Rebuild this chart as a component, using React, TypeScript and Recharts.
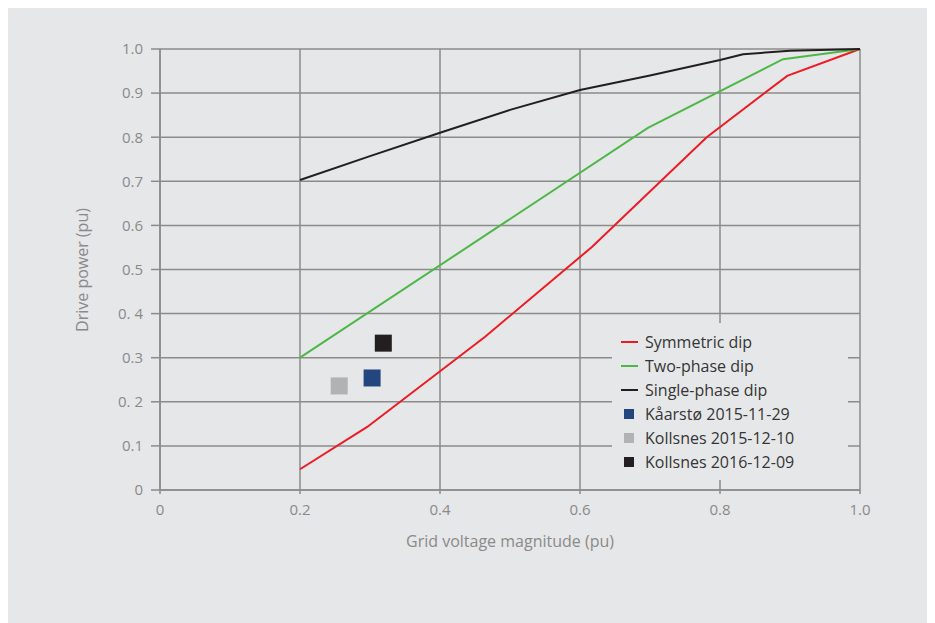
import React from 'react';
import {
  ComposedChart,
  Line,
  Scatter,
  XAxis,
  YAxis,
  CartesianGrid,
} from 'recharts';

// ---- Data ----
const symmetricDip = [
  { x: 0.2, y: 0.047 },
  { x: 0.296, y: 0.143 },
  { x: 0.464, y: 0.347 },
  { x: 0.617, y: 0.551 },
  { x: 0.781, y: 0.8 },
  { x: 0.896, y: 0.939 },
  { x: 1.0, y: 1.0 },
];

const twoPhaseDip = [
  { x: 0.2, y: 0.3 },
  { x: 0.697, y: 0.821 },
  { x: 0.89, y: 0.977 },
  { x: 1.0, y: 1.0 },
];

const singlePhaseDip = [
  { x: 0.2, y: 0.703 },
  { x: 0.3, y: 0.757 },
  { x: 0.4, y: 0.81 },
  { x: 0.5, y: 0.862 },
  { x: 0.6, y: 0.907 },
  { x: 0.7, y: 0.94 },
  { x: 0.8, y: 0.975 },
  { x: 0.833, y: 0.988 },
  { x: 0.9, y: 0.996 },
  { x: 1.0, y: 1.0 },
];

const kaarsto = [{ x: 0.303, y: 0.254 }];
const kollsnes2015 = [{ x: 0.256, y: 0.236 }];
const kollsnes2016 = [{ x: 0.319, y: 0.333 }];

const xTicks = [0, 0.2, 0.4, 0.6, 0.8, 1.0];
const xTickLabels = ['0', '0.2', '0.4', '0.6', '0.8', '1.0'];
const yTicks = [0, 0.1, 0.2, 0.3, 0.4, 0.5, 0.6, 0.7, 0.8, 0.9, 1.0];
const yTickLabels = ['0', '0.1', '0. 2', '0.3', '0. 4', '0.5', '0.6', '0.7', '0.8', '0.9', '1.0'];

const legendItems = [
  { name: 'Symmetric dip', color: '#ed1c24', kind: 'line' },
  { name: 'Two-phase dip', color: '#4db848', kind: 'line' },
  { name: 'Single-phase dip', color: '#231f20', kind: 'line' },
  { name: 'Kåarstø 2015-11-29', color: '#24467e', kind: 'square' },
  { name: 'Kollsnes 2015-12-10', color: '#b1b2b4', kind: 'square' },
  { name: 'Kollsnes 2016-12-09', color: '#231f20', kind: 'square' },
];

const FONT = '"Open Sans", sans-serif';
const BG = '#e6e7e8';
const GRID = '#8b8b8b';
const TICK = '#8a8a8a';

const makeSquare = (color: string) => (props: any) => {
  const { cx, cy } = props;
  const s = 17;
  return <rect x={cx - s / 2} y={cy - s / 2} width={s} height={s} fill={color} />;
};

const LegendBox = () => (
  <div
    style={{
      position: 'absolute',
      left: 604,
      top: 317,
      background: BG,
      width: 236,
      height: 157,
      paddingTop: 7,
      boxSizing: 'border-box',
      fontFamily: FONT,
    }}
  >
    {legendItems.map((it) => (
      <div key={it.name} style={{ height: 24, display: 'flex', alignItems: 'center' }}>
        <div style={{ width: 33, position: 'relative', height: 24, flex: 'none' }}>
          {it.kind === 'line' ? (
            <div style={{ position: 'absolute', left: 9, top: 11, width: 17, height: 2, background: it.color }} />
          ) : (
            <div style={{ position: 'absolute', left: 12, top: 7, width: 10, height: 10, background: it.color }} />
          )}
        </div>
        <span style={{ fontSize: 16, color: '#353535', whiteSpace: 'nowrap' }}>{it.name}</span>
      </div>
    ))}
  </div>
);

export default function App() {
  return (
    <div style={{ width: 927, height: 617, marginTop: -2, background: BG, position: 'relative' }}>
      <ComposedChart
        width={927}
        height={617}
        margin={{ top: 43, right: 75, bottom: 103, left: 92 }}
        style={{ fontFamily: FONT }}
      >
        <CartesianGrid stroke={GRID} strokeWidth={1.5} />
        <XAxis
          type="number"
          dataKey="x"
          domain={[0, 1]}
          ticks={xTicks}
          tickFormatter={(v: number, i: number) => xTickLabels[i]}
          height={30}
          tickSize={4}
          tickMargin={10}
          stroke={GRID}
          strokeWidth={1.5}
          tick={{ fill: TICK, fontSize: 15 }}
          label={() => (
            <text x={502} y={535} textAnchor="middle" dominantBaseline="central" fill={TICK} fontSize={16} fontFamily={FONT}>
              Grid voltage magnitude (pu)
            </text>
          )}
        />
        <YAxis
          type="number"
          dataKey="y"
          domain={[0, 1]}
          ticks={yTicks}
          tickFormatter={(v: number, i: number) => yTickLabels[i]}
          width={60}
          tickSize={9}
          tickMargin={8}
          stroke={GRID}
          strokeWidth={1.5}
          tick={{ fill: TICK, fontSize: 15 }}
          label={() => (
            <text
              x={74}
              y={264}
              transform="rotate(-90 74 264)"
              textAnchor="middle"
              dominantBaseline="central"
              fill={TICK}
              fontSize={16}
              fontFamily={FONT}
            >
              Drive power (pu)
            </text>
          )}
        />
        <Line data={symmetricDip} dataKey="y" name="Symmetric dip" stroke="#ed1c24" strokeWidth={2} dot={false} type="linear" isAnimationActive={false} />
        <Line data={twoPhaseDip} dataKey="y" name="Two-phase dip" stroke="#4db848" strokeWidth={2} dot={false} type="linear" isAnimationActive={false} />
        <Line data={singlePhaseDip} dataKey="y" name="Single-phase dip" stroke="#231f20" strokeWidth={2} dot={false} type="linear" isAnimationActive={false} />
        <Scatter data={kaarsto} dataKey="y" name="Kåarstø 2015-11-29" shape={makeSquare('#24467e')} isAnimationActive={false} />
        <Scatter data={kollsnes2015} dataKey="y" name="Kollsnes 2015-12-10" shape={makeSquare('#b1b2b4')} isAnimationActive={false} />
        <Scatter data={kollsnes2016} dataKey="y" name="Kollsnes 2016-12-09" shape={makeSquare('#231f20')} isAnimationActive={false} />
      </ComposedChart>
      <LegendBox />
    </div>
  );
}
